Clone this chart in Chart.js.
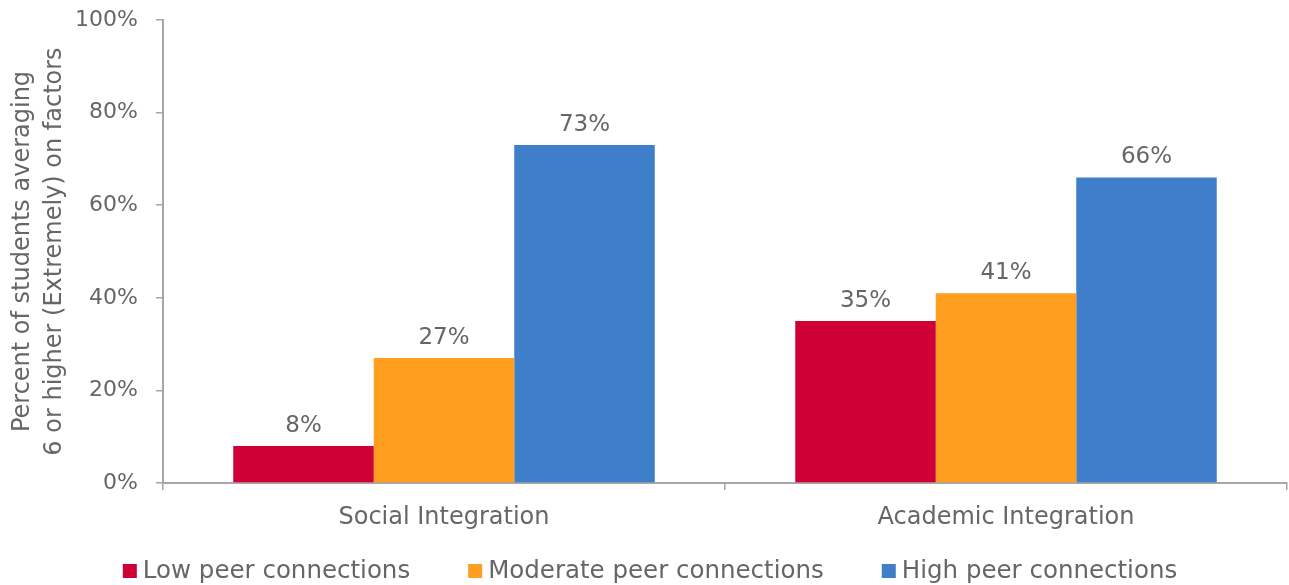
<!DOCTYPE html>
<html>
<head>
<meta charset="utf-8">
<script src="https://cdn.jsdelivr.net/npm/chart.js@4/dist/chart.umd.min.js"></script>
<style>
  html, body { margin: 0; padding: 0; background: #ffffff; }
  #wrap { width: 1289px; height: 585px; }
</style>
</head>
<body>
<div id="wrap"><canvas id="chart" width="1289" height="585"></canvas></div>
<script>
// Chart data
const categories = ['Social Integration', 'Academic Integration'];
const seriesNames = ['Low peer connections', 'Moderate peer connections', 'High peer connections'];
const lowPeer = [8, 35];
const moderatePeer = [27, 41];
const highPeer = [73, 66];
const yTickValues = [0, 20, 40, 60, 80, 100];
const yTitle = ['Percent of students averaging', '6 or higher (Extremely) on factors'];

// Styling
const FONT = "'DejaVu Sans', sans-serif";
const WEIGHT = 'normal';
const TEXT = '#666666';
const AXIS = '#A6A6A6';
const seriesColors = ['#CF0036', '#FF9E1F', '#3F7EC9'];

Chart.defaults.font.family = FONT;
Chart.defaults.font.weight = WEIGHT;
Chart.defaults.color = TEXT;

// Writes each bar's value above it
const valueLabels = {
  id: 'valueLabels',
  afterDatasetsDraw(chart, args, opts) {
    const ctx = chart.ctx;
    ctx.save();
    ctx.font = `${WEIGHT} ${opts.fontSize}px ${FONT}`;
    ctx.fillStyle = TEXT;
    ctx.textAlign = 'center';
    ctx.textBaseline = 'alphabetic';
    chart.data.datasets.forEach((ds, i) => {
      chart.getDatasetMeta(i).data.forEach((bar, j) => {
        ctx.fillText(ds.data[j] + '%', bar.x, bar.y - opts.offset);
      });
    });
    ctx.restore();
  }
};

// Single-row legend under the axis: square swatch, short gap, series name
const rowLegend = {
  id: 'rowLegend',
  afterDraw(chart, args, opts) {
    const ctx = chart.ctx;
    ctx.save();
    ctx.font = `${WEIGHT} ${opts.fontSize}px ${FONT}`;
    ctx.textBaseline = 'middle';
    ctx.textAlign = 'left';
    const items = chart.data.datasets.map(ds => ({
      text: ds.label,
      color: ds.backgroundColor,
      w: opts.box + opts.gap + ctx.measureText(ds.label).width
    }));
    const total = items.reduce((s, it) => s + it.w, 0) + opts.spacing * (items.length - 1);
    let x = opts.centerX - total / 2;
    const y = opts.y;
    items.forEach(it => {
      ctx.fillStyle = it.color;
      ctx.fillRect(x, y - opts.box / 2, opts.box, opts.box);
      ctx.fillStyle = TEXT;
      ctx.fillText(it.text, x + opts.box + opts.gap, y + 1);
      x += it.w + opts.spacing;
    });
    ctx.restore();
  }
};

const seriesValues = [lowPeer, moderatePeer, highPeer];

new Chart(document.getElementById('chart'), {
  type: 'bar',
  data: {
    labels: categories,
    datasets: seriesNames.map((name, i) => ({
      label: name,
      data: seriesValues[i],
      backgroundColor: seriesColors[i],
      borderWidth: 0,
      categoryPercentage: 0.75,
      barPercentage: 1.0
    }))
  },
  options: {
    responsive: false,
    animation: false,
    layout: { padding: { left: 7, right: 2, top: 20, bottom: 52 } },
    plugins: {
      tooltip: { enabled: false },
      legend: { display: false },
      valueLabels: { fontSize: 23, offset: 14 },
      rowLegend: { fontSize: 24.5, box: 14, gap: 6, spacing: 58, centerX: 650, y: 571 }
    },
    scales: {
      x: {
        grid: { display: true, drawOnChartArea: false, drawTicks: true, tickLength: 7, color: AXIS, lineWidth: 1.5, offset: true },
        border: { display: true, color: AXIS, width: 2 },
        ticks: { padding: 13, color: TEXT, font: { size: 24 } },
        afterFit(scale) { scale.height = 50; }
      },
      y: {
        min: 0,
        max: 100,
        afterBuildTicks(scale) { scale.ticks = yTickValues.map(v => ({ value: v })); },
        grid: { display: true, drawOnChartArea: false, drawTicks: true, tickLength: 7, color: AXIS, lineWidth: 1.5 },
        border: { display: true, color: AXIS, width: 2 },
        ticks: { padding: 18, color: TEXT, font: { size: 22 }, callback: v => v + '%' },
        title: { display: true, text: yTitle, color: TEXT, font: { size: 24, lineHeight: 1.3333 }, padding: 0 },
        afterFit(scale) {
          scale.width = 156;
          scale.paddingTop = 12;
          scale.paddingBottom = 12;
        }
      }
    }
  },
  plugins: [valueLabels, rowLegend]
});
</script>
</body>
</html>
